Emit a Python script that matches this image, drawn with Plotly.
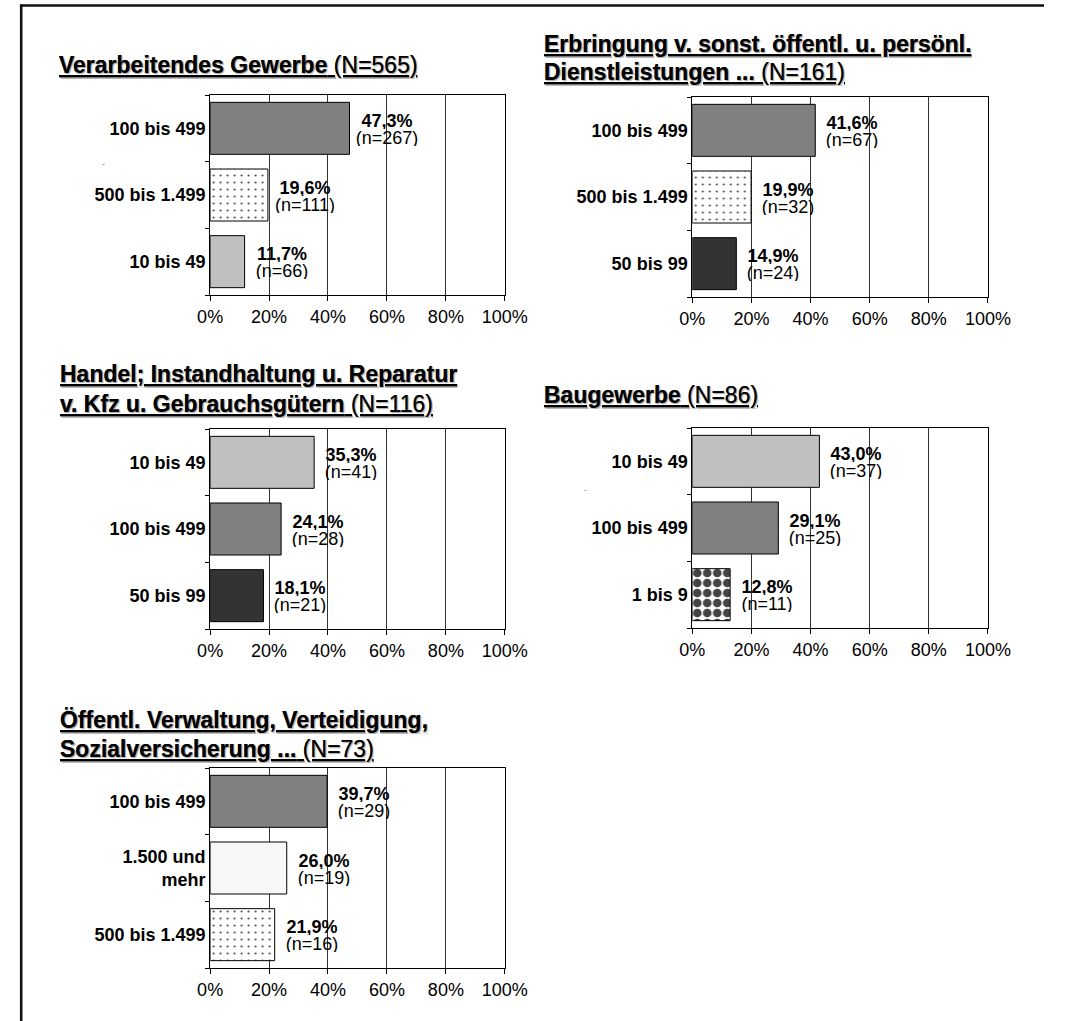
import plotly.graph_objects as go

# ---------------- data ----------------
p1_title = ["Verarbeitendes Gewerbe"]
p1_N = 565
p1_categories = ["100 bis 499", "500 bis 1.499", "10 bis 49"]
p1_values = [47.3, 19.6, 11.7]
p1_counts = [267, 111, 66]

p2_title = ["Erbringung v. sonst. öffentl. u. persönl.", "Dienstleistungen ..."]
p2_N = 161
p2_categories = ["100 bis 499", "500 bis 1.499", "50 bis 99"]
p2_values = [41.6, 19.9, 14.9]
p2_counts = [67, 32, 24]

p3_title = ["Handel; Instandhaltung u. Reparatur", "v. Kfz u. Gebrauchsgütern"]
p3_N = 116
p3_categories = ["10 bis 49", "100 bis 499", "50 bis 99"]
p3_values = [35.3, 24.1, 18.1]
p3_counts = [41, 28, 21]

p4_title = ["Baugewerbe"]
p4_N = 86
p4_categories = ["10 bis 49", "100 bis 499", "1 bis 9"]
p4_values = [43.0, 29.1, 12.8]
p4_counts = [37, 25, 11]

p5_title = ["Öffentl. Verwaltung, Verteidigung,", "Sozialversicherung ..."]
p5_N = 73
p5_categories = ["100 bis 499", "1.500 und mehr", "500 bis 1.499"]
p5_values = [39.7, 26.0, 21.9]
p5_counts = [29, 19, 16]

x_tickvals = [0, 20, 40, 60, 80, 100]
x_ticktext = ["0%", "20%", "40%", "60%", "80%", "100%"]

# ---------------- styles ----------------
W, H = 1067, 1021
FONT = "Arial, 'Liberation Sans', sans-serif"

STYLE = {
    "100 bis 499":    dict(color="#808080", shape="", fg="#000000", size=8, sol=0.3),
    "500 bis 1.499":  dict(color="#ffffff", shape=".", fg="#8c8c8c", size=7, sol=0.07),
    "10 bis 49":      dict(color="#c0c0c0", shape="", fg="#000000", size=8, sol=0.3),
    "50 bis 99":      dict(color="#333333", shape="", fg="#000000", size=8, sol=0.3),
    "1 bis 9":        dict(color="#ffffff", shape=".", fg="#000000", size=10, sol=0.6),
    "1.500 und mehr": dict(color="#f7f7f7", shape="", fg="#000000", size=8, sol=0.3),
}
TICKLABEL = {"1.500 und mehr": "1.500 und<br>mehr"}

def px_x(p):
    return p / W

def px_y(p):
    return 1 - p / H

panels = [
    # title lines, N, cats, vals, counts, x-domain px, y-domain px (top,bottom), title x px, title line centers px
    (p1_title, p1_N, p1_categories, p1_values, p1_counts, (204, 509), (95, 295), 47, [65]),
    (p2_title, p2_N, p2_categories, p2_values, p2_counts, (703, 1009), (97, 297), 548, [44, 72]),
    (p3_title, p3_N, p3_categories, p3_values, p3_counts, (204, 509), (429, 629), 48, [374, 404]),
    (p4_title, p4_N, p4_categories, p4_values, p4_counts, (703, 1009), (428, 628), 548, [395]),
    (p5_title, p5_N, p5_categories, p5_values, p5_counts, (204, 509), (768, 968), 48, [720, 749]),
]

fig = go.Figure()
annotations = []
layout_axes = {}

for i, (title, N, cats, vals, counts, xd, yd, tx, tys) in enumerate(panels, start=1):
    sfx = "" if i == 1 else str(i)
    xa, ya = "x" + sfx, "y" + sfx
    st = [STYLE[c] for c in cats]
    fig.add_trace(go.Bar(
        x=vals, y=cats, orientation="h", xaxis=xa, yaxis=ya,
        width=0.78,
        marker=dict(
            color=[s["color"] for s in st],
            line=dict(color="#000000", width=1),
            pattern=dict(
                shape=[s["shape"] for s in st],
                fgcolor=[s["fg"] for s in st],
                bgcolor=[s["color"] for s in st],
                size=[s["size"] for s in st],
                solidity=[s["sol"] for s in st],
                fgopacity=1,
            ),
        ),
        hoverinfo="skip", showlegend=False,
    ))
    layout_axes["xaxis" + sfx] = dict(
        domain=[px_x(xd[0]), px_x(xd[1])], anchor=ya, range=[0, 100],
        tickvals=x_tickvals, ticktext=x_ticktext,
        showgrid=True, gridcolor="#333333", gridwidth=1,
        showline=True, linecolor="#000000", linewidth=1, mirror=True,
        ticks="outside", ticklen=5, tickcolor="#000000",
        tickfont=dict(family=FONT, size=18, color="#000000"),
        zeroline=False, fixedrange=True,
    )
    layout_axes["yaxis" + sfx] = dict(
        domain=[px_y(yd[1]), px_y(yd[0])], anchor=xa,
        autorange="reversed", type="category",
        tickvals=cats, ticktext=[TICKLABEL.get(c, c) for c in cats],
        showline=True, linecolor="#000000", linewidth=1, mirror=True,
        ticks="outside", ticklen=4, tickcolor="#000000", tickson="boundaries",
        tickfont=dict(family=FONT, size=18, color="#000000", weight="bold"),
        showgrid=False, fixedrange=True,
    )
    # value labels
    for c, v, n in zip(cats, vals, counts):
        pct = f"{v:.1f}%".replace(".", ",")
        for txt, ys, bold in ((pct, 8, True), (f"(n={n})", -9, False)):
            annotations.append(dict(
                x=v, y=c, xref=xa, yref=ya, text=txt, showarrow=False,
                xanchor="left", yanchor="middle", align="center", valign="middle",
                width=70, height=17, borderpad=0,
                xshift=1, yshift=ys,
                font=dict(family=FONT, size=18, color="#000000",
                          weight="bold" if bold else "normal"),
            ))
    # titles
    for k, (line, ty) in enumerate(zip(title, tys)):
        if k == len(title) - 1:
            text = f"<u><b>{line}</b> (N={N})</u>"
        else:
            text = f"<u><b>{line}</b></u>"
        annotations.append(dict(
            x=px_x(tx), y=px_y(ty), xref="paper", yref="paper", text=text,
            showarrow=False, xanchor="left", yanchor="middle", align="left",
            valign="middle", height=28, borderpad=0,
            font=dict(family=FONT, size=23, color="#000000",
                      shadow="1px 1px 1px #b5b5b5"),
        ))

# small stray marks present in the original
for (sx, sy) in [(90, 157), (592, 490)]:
    annotations.append(dict(
        x=px_x(sx), y=px_y(sy), xref="paper", yref="paper", text="-",
        showarrow=False, font=dict(family=FONT, size=9, color="#808080"),
    ))

shapes = [
    dict(type="line", xref="paper", yref="paper",
         x0=px_x(8.5), x1=px_x(8.5), y0=0, y1=px_y(4.5),
         line=dict(color="#111111", width=2.6)),
    dict(type="line", xref="paper", yref="paper",
         x0=px_x(7.2), x1=1.0, y0=px_y(5.5), y1=px_y(5.5),
         line=dict(color="#111111", width=2.6)),
]

fig.update_layout(
    width=W, height=H,
    margin=dict(l=0, r=0, t=0, b=0),
    paper_bgcolor="#ffffff", plot_bgcolor="#ffffff",
    font=dict(family=FONT, color="#000000"),
    annotations=annotations, shapes=shapes,
    bargap=0.22,
    **layout_axes,
)

fig.write_html(
    "out.html",
    config={"displayModeBar": False},
    post_script="document.body.style.margin='0';document.body.style.overflow='hidden';",
)
